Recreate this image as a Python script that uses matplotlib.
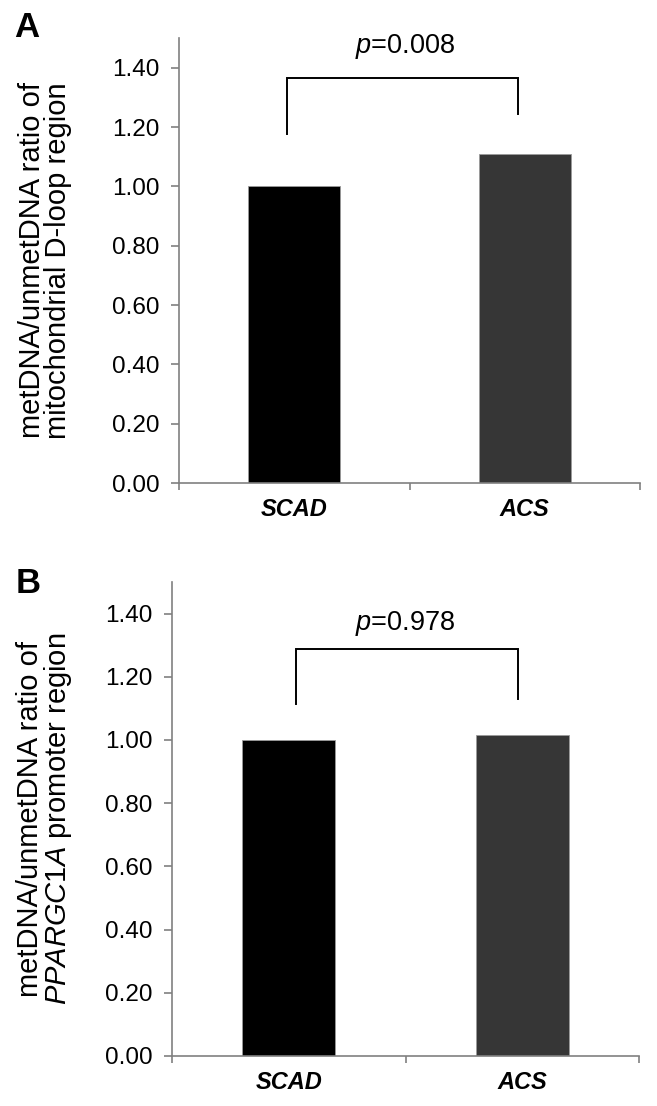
import matplotlib
matplotlib.use("Agg")
import matplotlib.pyplot as plt
import numpy as np

# ---- data ----
categories = ["SCAD", "ACS"]
values_a = [1.00, 1.11]
values_b = [1.00, 1.015]
bar_colors = ["#000000", "#363636"]
yticks = [0.0, 0.2, 0.4, 0.6, 0.8, 1.0, 1.2, 1.4]
p_text_a = "0.008"
p_text_b = "0.978"
# bracket: x of left/right legs (category units), y of left bottom, top, right bottom
bracket_a_x = [-0.03, 0.97]
bracket_a_y = [1.177, 1.366, 1.245]
bracket_b_x = [0.03, 0.98]
bracket_b_y = [1.114, 1.287, 1.129]
p_pos_a = (0.48, 1.47)
p_pos_b = (0.50, 1.37)
ylabel_a = "metDNA/unmetDNA ratio of\nmitochondrial D-loop region"
ylabel_b = "metDNA/unmetDNA ratio of\n$\\mathit{PPARGC1A}$ promoter region"

plt.rcParams['font.family'] = ['Liberation Sans', 'DejaVu Sans']
plt.rcParams['mathtext.fontset'] = 'custom'
plt.rcParams['mathtext.it'] = 'Liberation Sans:italic'
plt.rcParams['mathtext.rm'] = 'Liberation Sans'

W, H = 657, 1106
fig = plt.figure(figsize=(W / 100, H / 100), dpi=100)

def px_axes(left, right, top, bottom):
    return fig.add_axes([left / W, 1 - bottom / H, (right - left) / W, (bottom - top) / H])

ax_a = px_axes(179, 640, 38, 483)
ax_b = px_axes(172, 639, 582, 1056)

spine_col = "#808080"

def style(ax, values, bx, by, ptxt, ppos, ylabel, ax_px):
    x = np.arange(len(categories))
    ax.bar(x, values, width=0.4, color=bar_colors, edgecolor="#9a9a9a", linewidth=0.6, zorder=2)
    ax.set_xlim(-0.5, 1.5)
    ax.set_ylim(0, 1.5)
    for s in ["top", "right"]:
        ax.spines[s].set_visible(False)
    for s in ["left", "bottom"]:
        ax.spines[s].set_color(spine_col)
        ax.spines[s].set_linewidth(1.2)
    ax.set_yticks(yticks)
    ax.set_yticklabels([f"{v:.2f}" for v in yticks])
    ax.tick_params(axis="y", direction="out", length=6, width=1.2, color=spine_col,
                   labelsize=17.5, pad=8)
    ax.set_xticks([-0.5, 0.5, 1.5])
    ax.set_xticklabels(["", "", ""])
    ax.tick_params(axis="x", which="major", direction="out", length=5, width=1.2, color=spine_col)
    ax.set_xticks(x, minor=True)
    ax.set_xticklabels(categories, minor=True, fontsize=17, fontweight="bold", style="italic")
    ax.tick_params(axis="x", which="minor", length=0, pad=11)
    # bracket
    ax.plot([bx[0], bx[0], bx[1], bx[1]], [by[0], by[1], by[1], by[2]],
            color="black", lw=1.4, solid_joinstyle="miter", clip_on=False)
    ax.text(ppos[0], ppos[1], "$\\mathit{p}$=" + ptxt, ha="center", va="center",
            fontsize=19.5)
    # y label
    left, right, top, bottom = ax_px
    fig.text(45 / W, 1 - ((top + bottom) / 2) / H, ylabel, rotation=90,
             ha="center", va="center", fontsize=21, linespacing=0.88)

style(ax_a, values_a, bracket_a_x, bracket_a_y, p_text_a, p_pos_a, ylabel_a, (179, 640, 38, 483))
style(ax_b, values_b, bracket_b_x, bracket_b_y, p_text_b, p_pos_b, ylabel_b, (172, 639, 582, 1056))

fig.text(14 / W, 1 - 11 / H, "A", fontsize=25, fontweight="bold", ha="left", va="top")
fig.text(16 / W, 1 - 567 / H, "B", fontsize=25, fontweight="bold", ha="left", va="top")

fig.savefig("out.png", dpi=100, facecolor="white")
